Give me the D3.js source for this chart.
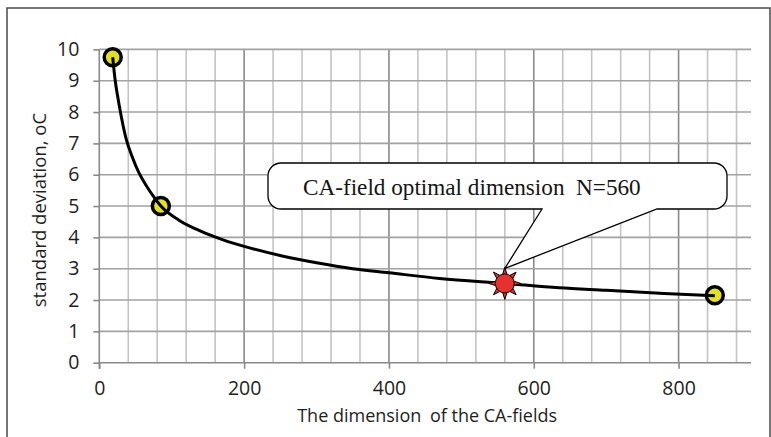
<!DOCTYPE html>
<html>
<head>
<meta charset="utf-8">
<script src="https://cdn.jsdelivr.net/npm/d3@7"></script>
<style>
  html, body { margin: 0; padding: 0; background: #fff; }
  svg { display: block; }
</style>
</head>
<body>
<svg id="chart" width="771" height="437"></svg>
<script>
// Fitted curve of standard deviation vs. CA-field dimension
const curveX = [18.5, 22, 25, 30, 37, 45, 55, 65, 75, 85, 110, 140, 170, 210, 254, 300, 350, 400, 470, 560, 635, 700, 780, 850];
const curveY = [9.75, 9.0, 8.55, 7.9, 7.15, 6.6, 6.05, 5.65, 5.3, 5.0, 4.55, 4.2, 3.93, 3.65, 3.4, 3.19, 3.0, 2.87, 2.69, 2.53, 2.39, 2.31, 2.21, 2.14];

// Measured points
const pointX = [18.5, 85, 850];
const pointY = [9.75, 5.0, 2.15];

// Optimal dimension
const optimalN = 560;
const optimalSD = 2.53;
const calloutText = "CA-field optimal dimension  N=560";

// Axes
const xTicks = [0, 200, 400, 600, 800];
const xMinorStep = 40;
const yTicks = [0, 1, 2, 3, 4, 5, 6, 7, 8, 9, 10];
const xTitleParts = ["The dimension", "of the CA-fields"];
const yTitle = "standard deviation, oC";

const svg = d3.select("#chart");
const sans = "Open Sans, sans-serif";
const inkColor = "#1e1e1e";

const x = d3.scaleLinear().domain([0, 900]).range([99.3, 751]);
const y = d3.scaleLinear().domain([0, 10]).range([362.7, 49.4]);

// outer frame
svg.append("rect").attr("x", 7).attr("y", 8).attr("width", 763).attr("height", 440)
  .attr("fill", "#fff").attr("stroke", "#4a4a4a").attr("stroke-width", 1.5);

const grid = svg.append("g");
// vertical gridlines every 40 units, darker at the labelled values
const vLines = d3.range(xMinorStep, 900, xMinorStep);
grid.selectAll("line.v").data(vLines).join("line")
  .attr("x1", d => x(d)).attr("x2", d => x(d))
  .attr("y1", y(10)).attr("y2", y(0))
  .attr("stroke", d => d % 200 === 0 ? "#8a8a8a" : "#c4c4c4")
  .attr("stroke-width", 1.6);
// horizontal gridlines
grid.selectAll("line.h").data(yTicks.filter(d => d > 0)).join("line")
  .attr("x1", x(0)).attr("x2", x(900))
  .attr("y1", d => y(d)).attr("y2", d => y(d))
  .attr("stroke", "#a2a2a2").attr("stroke-width", 1.6);

// axis lines
const axisColor = "#8a8a8a";
svg.append("line").attr("x1", x(0)).attr("x2", x(900)).attr("y1", y(0)).attr("y2", y(0))
  .attr("stroke", axisColor).attr("stroke-width", 1.6);
svg.append("line").attr("x1", x(0)).attr("x2", x(0)).attr("y1", y(10)).attr("y2", y(0) + 6)
  .attr("stroke", axisColor).attr("stroke-width", 1.6);

// x axis
const xAxis = d3.axisBottom(x).tickValues(xTicks).tickSize(6).tickPadding(12).tickSizeOuter(0);
const gx = svg.append("g").attr("transform", `translate(0,${y(0)})`).call(xAxis);
gx.select(".domain").remove();
gx.selectAll(".tick line").attr("stroke", axisColor).attr("stroke-width", 1.6);
gx.selectAll(".tick text").attr("font-family", sans).attr("font-size", 19.5)
  .attr("fill", inkColor).attr("dy", "0.71em");

// y axis
const yAxis = d3.axisLeft(y).tickValues(yTicks).tickSize(6).tickPadding(14).tickSizeOuter(0);
const gy = svg.append("g").attr("transform", `translate(${x(0)},0)`).call(yAxis);
gy.select(".domain").remove();
gy.selectAll(".tick line").attr("stroke", axisColor).attr("stroke-width", 1.6);
gy.selectAll(".tick text").attr("font-family", sans).attr("font-size", 19.5)
  .attr("fill", inkColor);

// axis titles
const xt = svg.append("text").attr("x", (x(0) + x(900)) / 2 + 2).attr("y", 422)
  .attr("text-anchor", "middle").attr("font-family", sans)
  .attr("font-size", 18).attr("fill", inkColor);
xt.append("tspan").text(xTitleParts[0]);
xt.append("tspan").attr("dx", 4).text(" " + xTitleParts[1]);
svg.append("text").attr("transform", `translate(46,${(y(0) + y(10)) / 2 + 4}) rotate(-90)`)
  .attr("text-anchor", "middle").attr("font-family", sans)
  .attr("font-size", 18.5).attr("fill", inkColor).text(yTitle);

// measured points
svg.append("g").selectAll("circle").data(pointX).join("circle")
  .attr("cx", d => x(d)).attr("cy", (d, i) => y(pointY[i]))
  .attr("r", 8.5).attr("fill", "#e4e21e").attr("stroke", "#000").attr("stroke-width", 3.5);

// fitted curve
const line = d3.line().x(d => x(d[0])).y(d => y(d[1])).curve(d3.curveMonotoneX);
svg.append("path").datum(d3.zip(curveX, curveY)).attr("d", line)
  .attr("fill", "none").attr("stroke", "#000").attr("stroke-width", 3);

// optimal point: sun-shaped marker
const sx = x(optimalN), sy = y(optimalSD);
const star = svg.append("g").attr("transform", `translate(${sx},${sy})`);
const spikes = d3.range(8).map(i => i * Math.PI / 4);
star.selectAll("path").data(spikes).join("path")
  .attr("d", a => {
    const tip = 16, base = 8.5, w = 0.3;
    const p = (r, t) => [r * Math.sin(t), -r * Math.cos(t)];
    return "M" + p(base, a - w) + "L" + p(tip, a) + "L" + p(base, a + w) + "Z";
  })
  .attr("fill", "#e8302c").attr("stroke", "#000").attr("stroke-width", 1);
star.append("circle").attr("r", 9.5).attr("fill", "#e8302c").attr("stroke", "#000").attr("stroke-width", 1);

// callout bubble
const bx0 = 268, bx1 = 727, by0 = 163, by1 = 209, rad = 13;
const tipX = sx, tipY = sy - 15;
const px0 = 542, px1 = 657;
const bubble = d3.path();
bubble.moveTo(bx0 + rad, by0);
bubble.lineTo(bx1 - rad, by0);
bubble.arcTo(bx1, by0, bx1, by0 + rad, rad);
bubble.lineTo(bx1, by1 - rad);
bubble.arcTo(bx1, by1, bx1 - rad, by1, rad);
bubble.lineTo(px1, by1);
bubble.lineTo(tipX, tipY);
bubble.lineTo(px0, by1);
bubble.lineTo(bx0 + rad, by1);
bubble.arcTo(bx0, by1, bx0, by1 - rad, rad);
bubble.lineTo(bx0, by0 + rad);
bubble.arcTo(bx0, by0, bx0 + rad, by0, rad);
bubble.closePath();
svg.append("path").attr("d", bubble.toString())
  .attr("fill", "#fff").attr("stroke", "#000").attr("stroke-width", 1.3);

svg.append("text").attr("x", 303).attr("y", 195)
  .attr("font-family", "Liberation Serif, Times New Roman, serif").attr("font-size", 23.2)
  .attr("fill", "#141414").style("white-space", "pre").text(calloutText);
</script>
</body>
</html>
